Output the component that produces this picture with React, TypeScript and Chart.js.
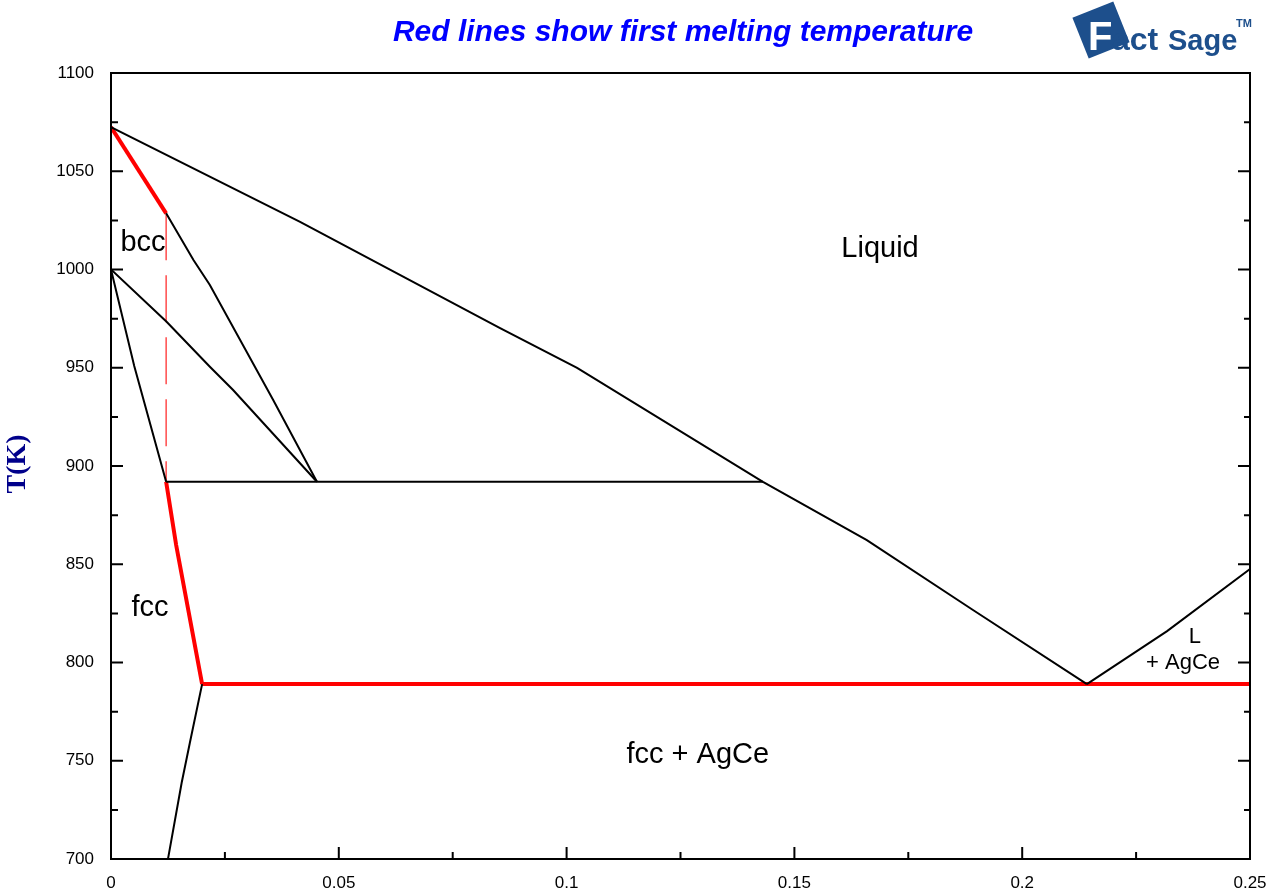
import React, { useEffect, useRef } from "react";
import { Chart, registerables } from "chart.js";
Chart.register(...registerables);

// ---- data (mole fraction X, temperature T in K) ----
const liquidusX = [0, 0.0415, 0.0854, 0.1023, 0.1431, 0.1659, 0.1892, 0.2142];
const liquidusT = [1072.5, 1024.2, 970.2, 949.9, 891.9, 862.3, 826.7, 789];
const liquidusRightX = [0.2142, 0.2318, 0.25];
const liquidusRightT = [789, 816, 847.6];
const bccLiquidusRedX = [0, 0.0121];
const bccLiquidusRedT = [1072.5, 1028.6];
const bccSolidusX = [0.0121, 0.0181, 0.0217, 0.0356, 0.0452];
const bccSolidusT = [1028.6, 1004.8, 992.1, 933.6, 892];
const bccFccUpperX = [0, 0.0122, 0.0217, 0.0268, 0.0452];
const bccFccUpperT = [1000, 973.4, 950.5, 938.7, 892];
const fccBccX = [0, 0.0051, 0.0121];
const fccBccT = [1000, 950.9, 892];
const peritecticX = [0.0121, 0.1431];
const peritecticT = [892, 892];
const dashedX = [0.0121, 0.0121];
const dashedT = [1028.6, 892];
const fccSolidusRedX = [0.0121, 0.0143, 0.02];
const fccSolidusRedT = [892, 859.8, 789];
const eutecticX = [0.02, 0.25];
const eutecticT = [789, 789];
const fccSolvusX = [0.02, 0.0173, 0.0155, 0.0126, 0.0125];
const fccSolvusT = [789, 759, 738.7, 701.2, 700];

const xTickValues = [0, 0.05, 0.1, 0.15, 0.2, 0.25];
const xTickLabels = ["0", "0.05", "0.1", "0.15", "0.2", "0.25"];
const xMinorTicks = [0.025, 0.075, 0.125, 0.175, 0.225];
const yTickValues = [700, 750, 800, 850, 900, 950, 1000, 1050, 1100];
const yTickLabels = ["700", "750", "800", "850", "900", "950", "1000", "1050", "1100"];
const yMinorTicks = [725, 775, 825, 875, 925, 975, 1025, 1075];

const regionLabels = ["bcc", "Liquid", "fcc", "fcc + AgCe", "L", "+ AgCe"];
const regionLabelX = [0.00702, 0.1688, 0.00856, 0.1288, 0.2379, 0.2353];
const regionLabelT = [1013.5, 1010.4, 827.7, 752.9, 813, 799.7];
const regionLabelSize = [29, 29, 29, 29, 22, 22];

const titleText = "Red lines show first melting temperature";
const yTitle = "T(K)";

const pts = (xs: number[], ys: number[]) => xs.map((x, i) => ({ x, y: ys[i] }));

const SANS = "'Liberation Sans', Arial, sans-serif";
const NAVY = "#1d4f8c";

const decorPlugin = {
  id: "decor",
  afterDatasetsDraw(chart: any) {
    const { ctx, chartArea, scales } = chart;
    const xs = scales.x;
    const ys = scales.y;
    const { left, right, top, bottom } = chartArea;
    ctx.save();
    // frame
    ctx.strokeStyle = "#000";
    ctx.lineWidth = 2;
    ctx.strokeRect(left, top, right - left, bottom - top);
    // ticks (inward)
    ctx.beginPath();
    xTickValues.forEach((v) => {
      const px = xs.getPixelForValue(v);
      ctx.moveTo(px, bottom);
      ctx.lineTo(px, bottom - 12);
    });
    xMinorTicks.forEach((v) => {
      const px = xs.getPixelForValue(v);
      ctx.moveTo(px, bottom);
      ctx.lineTo(px, bottom - 7);
    });
    yTickValues.forEach((v) => {
      const py = ys.getPixelForValue(v);
      ctx.moveTo(left, py);
      ctx.lineTo(left + 12, py);
      ctx.moveTo(right, py);
      ctx.lineTo(right - 12, py);
    });
    yMinorTicks.forEach((v) => {
      const py = ys.getPixelForValue(v);
      ctx.moveTo(left, py);
      ctx.lineTo(left + 7, py);
      ctx.moveTo(right, py);
      ctx.lineTo(right - 6, py);
    });
    ctx.stroke();

    // region labels
    ctx.fillStyle = "#000";
    ctx.textAlign = "center";
    ctx.textBaseline = "middle";
    regionLabels.forEach((t, i) => {
      ctx.font = `${regionLabelSize[i]}px ${SANS}`;
      ctx.fillText(t, xs.getPixelForValue(regionLabelX[i]), ys.getPixelForValue(regionLabelT[i]));
    });

    // title
    ctx.fillStyle = "#0000ff";
    ctx.font = `italic bold 30px ${SANS}`;
    ctx.fillText(titleText, 683, 33);

    // y axis title
    ctx.save();
    ctx.translate(18, 464);
    ctx.rotate(-Math.PI / 2);
    ctx.fillStyle = "#00008b";
    ctx.font = "bold 28px 'Liberation Serif', 'Times New Roman', serif";
    ctx.fillText(yTitle, 0, 0);
    ctx.restore();

    // FactSage logo
    ctx.save();
    ctx.translate(1101, 30);
    ctx.rotate(-0.38);
    ctx.fillStyle = NAVY;
    ctx.fillRect(-22, -22, 44, 44);
    ctx.restore();
    ctx.textAlign = "left";
    ctx.textBaseline = "alphabetic";
    ctx.fillStyle = "#ffffff";
    ctx.font = `bold 40px ${SANS}`;
    ctx.fillText("F", 1088, 50);
    ctx.fillStyle = NAVY;
    ctx.font = `bold 32px ${SANS}`;
    ctx.fillText("act", 1112, 50);
    ctx.font = `bold 29px 'Liberation Sans Narrow', ${SANS}`;
    ctx.fillText("Sage", 1168, 50);
    ctx.font = `bold 11px ${SANS}`;
    ctx.fillText("TM", 1236, 27);
    ctx.restore();
  },
};

export default function App() {
  const ref = useRef<HTMLCanvasElement | null>(null);
  useEffect(() => {
    document.body.style.margin = "0";
    const black = (xs: number[], ys: number[]) => ({
      data: pts(xs, ys),
      borderColor: "#000",
      borderWidth: 2,
      showLine: true,
      pointRadius: 0,
      fill: false,
      tension: 0,
    });
    const red = (xs: number[], ys: number[]) => ({
      data: pts(xs, ys),
      borderColor: "#ff0000",
      borderWidth: 4,
      showLine: true,
      pointRadius: 0,
      fill: false,
      tension: 0,
    });
    const chart = new Chart(ref.current as HTMLCanvasElement, {
      type: "scatter",
      data: {
        datasets: [
          black(liquidusX, liquidusT),
          black(liquidusRightX, liquidusRightT),
          black(bccSolidusX, bccSolidusT),
          black(bccFccUpperX, bccFccUpperT),
          black(fccBccX, fccBccT),
          black(peritecticX, peritecticT),
          black(fccSolvusX, fccSolvusT),
          {
            data: pts(dashedX, dashedT),
            borderColor: "#ff3030",
            borderWidth: 1.3,
            borderDash: [47, 15],
            showLine: true,
            pointRadius: 0,
            fill: false,
          },
          red(bccLiquidusRedX, bccLiquidusRedT),
          red(fccSolidusRedX, fccSolidusRedT),
          red(eutecticX, eutecticT),
        ] as any,
      },
      options: {
        animation: false,
        responsive: false,
        devicePixelRatio: 1,
        layout: { padding: { left: 0, right: 18, top: 73, bottom: 0 } },
        plugins: { legend: { display: false }, tooltip: { enabled: false }, title: { display: false } },
        scales: {
          x: {
            type: "linear",
            min: 0,
            max: 0.25,
            grid: { display: false, drawTicks: false },
            border: { display: false },
            afterBuildTicks: (s: any) => {
              s.ticks = xTickValues.map((v) => ({ value: v }));
            },
            afterFit: (s: any) => {
              s.height = 32;
              s.paddingLeft = 0;
              s.paddingRight = 0;
            },
            ticks: {
              color: "#000",
              font: { family: SANS, size: 17 },
              padding: 14,
              maxRotation: 0,
              autoSkip: false,
              callback: (v: any) => {
                const i = xTickValues.findIndex((t) => Math.abs(t - Number(v)) < 1e-9);
                return i >= 0 ? xTickLabels[i] : "";
              },
            },
          },
          y: {
            type: "linear",
            min: 700,
            max: 1100,
            grid: { display: false, drawTicks: false },
            border: { display: false },
            afterBuildTicks: (s: any) => {
              s.ticks = yTickValues.map((v) => ({ value: v }));
            },
            afterFit: (s: any) => {
              s.width = 111;
              s.paddingTop = 0;
              s.paddingBottom = 0;
            },
            ticks: {
              color: "#000",
              font: { family: SANS, size: 17 },
              padding: 17,
              autoSkip: false,
              callback: (v: any) => {
                const i = yTickValues.findIndex((t) => Math.abs(t - Number(v)) < 1e-9);
                return i >= 0 ? yTickLabels[i] : "";
              },
            },
          },
        },
      } as any,
      plugins: [decorPlugin],
    });
    return () => chart.destroy();
  }, []);
  return (
    <div style={{ position: "absolute", left: 0, top: 0, width: 1268, height: 891, background: "#fff" }}>
      <canvas ref={ref} width={1268} height={891} />
    </div>
  );
}
